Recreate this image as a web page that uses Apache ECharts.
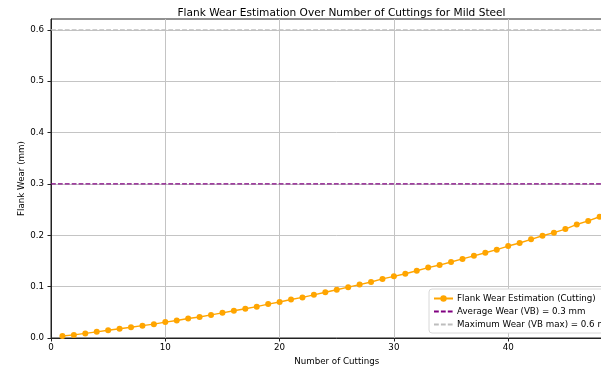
<!DOCTYPE html>
<html>
<head>
<meta charset="utf-8">
<script src="https://cdn.jsdelivr.net/npm/echarts@6/dist/echarts.min.js"></script>
<style>
html,body{margin:0;padding:0;background:#fff;}
#wrap{position:absolute;left:0;top:0;width:601px;height:369px;overflow:hidden;background:#fff;}
#c{width:680px;height:369px;}
</style>
</head>
<body>
<div id="wrap"><div id="c"></div></div>
<script>
const titleText = 'Flank Wear Estimation Over Number of Cuttings for Mild Steel';
const xName = 'Number of Cuttings';
const yName = 'Flank Wear (mm)';
const seriesNames = ['Flank Wear Estimation (Cutting)', 'Average Wear (VB) = 0.3 mm', 'Maximum Wear (VB max) = 0.6 mm'];
const cuttings = [1,2,3,4,5,6,7,8,9,10,11,12,13,14,15,16,17,18,19,20,21,22,23,24,25,26,27,28,29,30,31,32,33,34,35,36,37,38,39,40,41,42,43,44,45,46,47,48];
const wear = [0.004,0.006,0.009,0.012,0.015,0.018,0.021,0.024,0.027,0.031,0.034,0.038,0.041,0.045,0.049,0.053,0.057,0.061,0.066,0.070,0.075,0.079,0.084,0.089,0.094,0.099,0.104,0.109,0.115,0.120,0.125,0.131,0.137,0.142,0.148,0.154,0.160,0.166,0.172,0.179,0.185,0.192,0.199,0.205,0.212,0.221,0.228,0.236];
const xRange = [0, 50];
const yRange = [0, 0.621];
const avgWear = 0.3;
const maxWear = 0.6;

const font = 'DejaVu Sans';
const hiddenMarker = {color: 'rgba(0,0,0,0)', borderColor: 'rgba(0,0,0,0)', borderWidth: 0};
const chart = echarts.init(document.getElementById('c'), null, {renderer: 'canvas'});
chart.setOption({
  animation: false,
  backgroundColor: '#fff',
  textStyle: {fontFamily: font},
  title: {
    text: titleText,
    left: 336.5, top: 3, textAlign: 'center',
    textStyle: {fontFamily: font, fontSize: 10.6, fontWeight: 'normal', color: '#000'}
  },
  grid: {
    left: 51, top: 19, width: 571.5, height: 319,
    show: true, borderColor: '#222', borderWidth: 1, backgroundColor: 'transparent',
    outerBoundsMode: 'none'
  },
  legend: {
    orient: 'vertical', left: 429, top: 289,
    padding: [5, 60, 4, 4], itemGap: 4, itemWidth: 19, itemHeight: 8,
    backgroundColor: '#fff', borderColor: '#d8d8d8', borderWidth: 1, borderRadius: 3,
    textStyle: {fontFamily: font, fontSize: 8.7, color: '#000', padding: [0,0,0,-1]},
    data: [
      {name: seriesNames[0]},
      {name: seriesNames[1], itemStyle: hiddenMarker},
      {name: seriesNames[2], itemStyle: hiddenMarker}
    ]
  },
  xAxis: {
    type: 'value', min: xRange[0], max: xRange[1], interval: 10,
    name: xName, nameLocation: 'middle', nameGap: 19, nameMoveOverlap: false,
    nameTextStyle: {fontFamily: font, fontSize: 8.7, color: '#000'},
    axisLine: {show: true, lineStyle: {color: '#222', width: 1}},
    axisTick: {show: true, length: 3.5, lineStyle: {color: '#222'}},
    axisLabel: {margin: 5, fontFamily: font, fontSize: 8.7, color: '#000'},
    splitLine: {show: true, lineStyle: {color: '#c4c4c4', width: 1}}
  },
  yAxis: {
    type: 'value', min: yRange[0], max: yRange[1], interval: 0.1,
    name: yName, nameLocation: 'middle', nameGap: 25, nameRotate: 90, nameMoveOverlap: false,
    nameTextStyle: {fontFamily: font, fontSize: 8.7, color: '#000'},
    axisLine: {show: true, lineStyle: {color: '#222', width: 1}},
    axisTick: {show: true, length: 3.5, lineStyle: {color: '#222'}},
    axisLabel: {margin: 7, fontFamily: font, fontSize: 8.7, color: '#000', showMaxLabel: false,
      formatter: v => v.toFixed(1)},
    splitLine: {show: true, showMaxLine: false, lineStyle: {color: '#c4c4c4', width: 1}}
  },
  series: [
    {
      name: seriesNames[0], type: 'line',
      data: cuttings.map((c, i) => [c, wear[i]]),
      symbol: 'circle', symbolSize: 6, showSymbol: true,
      lineStyle: {color: '#FFA500', width: 1.4},
      itemStyle: {color: '#FFA500'},
      z: 5
    },
    {
      name: seriesNames[1], type: 'line',
      data: xRange.map(x => [x, avgWear]),
      symbol: 'none',
      lineStyle: {color: '#800080', width: 1.3, type: [4.8, 2.1]},
      itemStyle: {color: '#800080'},
      z: 4
    },
    {
      name: seriesNames[2], type: 'line',
      data: xRange.map(x => [x, maxWear]),
      symbol: 'none',
      lineStyle: {color: '#bdbdbd', width: 1.3, type: [4.8, 2.1]},
      itemStyle: {color: '#bdbdbd'},
      z: 4
    }
  ]
});
</script>
</body>
</html>
